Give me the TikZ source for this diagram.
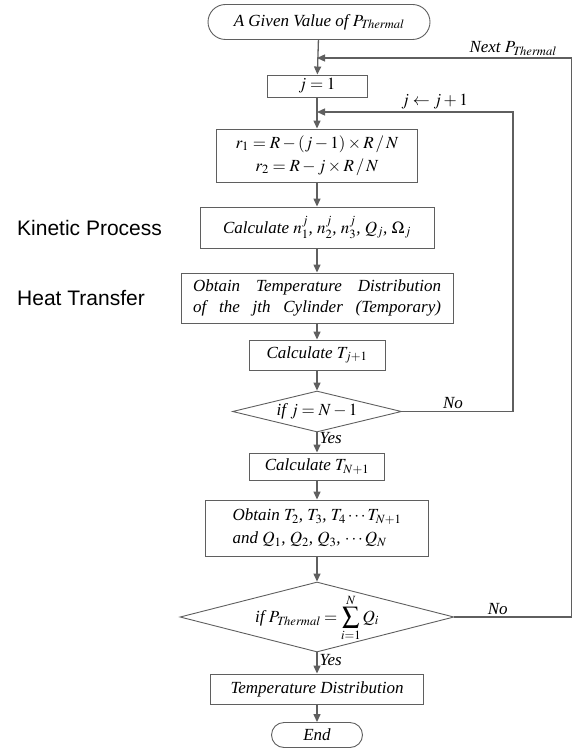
\documentclass[tikz,border=0pt]{standalone}
\usepackage{mathptmx}
\usepackage{fontspec}
\setmainfont{Liberation Serif}
\newfontfamily\sanslabel{Liberation Sans}
\usetikzlibrary{shapes.geometric,shapes.misc,arrows.meta}
\definecolor{trait}{RGB}{95,95,95}
\begin{document}
\begin{tikzpicture}[x=1pt,y=-1pt]
	% définition des styles
	\tikzstyle{borne}=[rounded rectangle,draw=trait,line width=0.9pt,inner sep=0pt,font=\itshape\fontsize{17}{21}\selectfont]
	\tikzstyle{etape}=[rectangle,draw=trait,line width=0.9pt,inner sep=0pt,align=center,font=\itshape\fontsize{17}{21}\selectfont]
	\tikzstyle{test}=[diamond,draw=trait,line width=0.9pt,inner sep=0pt]
	\tikzstyle{fleche}=[-{Triangle[length=8pt,width=7pt]},draw=trait,line width=1.3pt]
	\tikzstyle{etiquette}=[font=\itshape\fontsize{17}{21}\selectfont,inner sep=2pt]
	\tikzstyle{categorie}=[anchor=west,inner sep=0pt,font=\sanslabel\fontsize{21}{25}\selectfont]
	\useasboundingbox (0,0) rectangle (576,751);
	% les nœuds
	\node[borne,minimum width=222pt,minimum height=35pt] (debut) at (319,22) {A Given Value of $P_{\mathit{Thermal}}$};
	\node[etape,minimum width=100pt,minimum height=22pt] (j1) at (317,86) {$j=1$};
	\node[etape,minimum width=201pt,minimum height=53pt] (rayons) at (317,155.5) {$r_1 = R-(j-1)\times R\,/\,N$\\[2pt]$r_2 = R-j\times R\,/\,N$};
	\node[etape,minimum width=234pt,minimum height=41pt] (cinetique) at (317,227.5) {Calculate $n_1^j$, $n_2^j$, $n_3^j$, $Q_j$, $\Omega_j$};
	\node[etape,minimum width=272pt,minimum height=50pt] (thermique) at (317,298) {\makebox[248pt][s]{Obtain Temperature Distribution}\\\makebox[248pt][s]{of the jth Cylinder (Temporary)}};
	\node[etape,minimum width=136pt,minimum height=30pt] (tj) at (317,355) {Calculate $T_{j+1}$};
	\node[test,minimum width=169pt,minimum height=41pt,label={[etiquette]center:if $j=N-1$}] (test1) at (317,411.5) {};
	\node[etape,minimum width=135pt,minimum height=27pt] (tn) at (317,466.5) {Calculate $T_{N+1}$};
	\node[etape,minimum width=223pt,minimum height=56pt,align=left] (bilan) at (317,528) {Obtain $T_2$, $T_3$, $T_4\cdots T_{N+1}$\\[2pt]and $Q_1$, $Q_2$, $Q_3$, $\cdots Q_N$};
	\node[test,minimum width=274pt,minimum height=70pt,label={[etiquette,yshift=-1pt]center:if $\displaystyle P_{\mathit{Thermal}}=\sum_{i=1}^{N}Q_i$}] (test2) at (317,617) {};
	\node[etape,minimum width=213pt,minimum height=30pt] (temp) at (317,689) {Temperature Distribution};
	\node[borne,minimum width=91pt,minimum height=25pt] (fin) at (317,735) {End};
	\node[categorie] (cinet) at (17,227.5) {Kinetic Process};
	\node[categorie] (chaleur) at (17,298) {Heat Transfer};
	\coordinate (retour1) at (317,112);
	\coordinate (retour2) at (317,58);
	% les flèches
	\draw[fleche] (debut) -- (j1);
	\draw[fleche] (j1) -- (rayons);
	\draw[fleche] (rayons) -- (cinetique);
	\draw[fleche] (cinetique) -- (thermique);
	\draw[fleche] (thermique) -- (tj);
	\draw[fleche] (tj) -- (test1);
	\draw[fleche] (test1) -- node[etiquette,right,pos=0.3] (oui1) {Yes} (tn);
	\draw[fleche] (tn) -- (bilan);
	\draw[fleche] (bilan) -- (test2);
	\draw[fleche] (test2) -- node[etiquette,right,pos=0.35] (oui2) {Yes} (temp);
	\draw[fleche] (temp) -- (fin);
	% les boucles
	\draw[fleche] (test1.east) -- node[etiquette,above,pos=0.46] (non1) {No} ++(111,0) |- node[etiquette,above,pos=0.70] (incr) {$j\leftarrow j+1$} (retour1);
	\draw[fleche] (test2.east) -- node[etiquette,above,pos=0.37] (non2) {No} ++(117,0) |- node[etiquette,above,pos=0.615] (suivant) {Next $P_{\mathit{Thermal}}$} (retour2);
\end{tikzpicture}
\end{document}
